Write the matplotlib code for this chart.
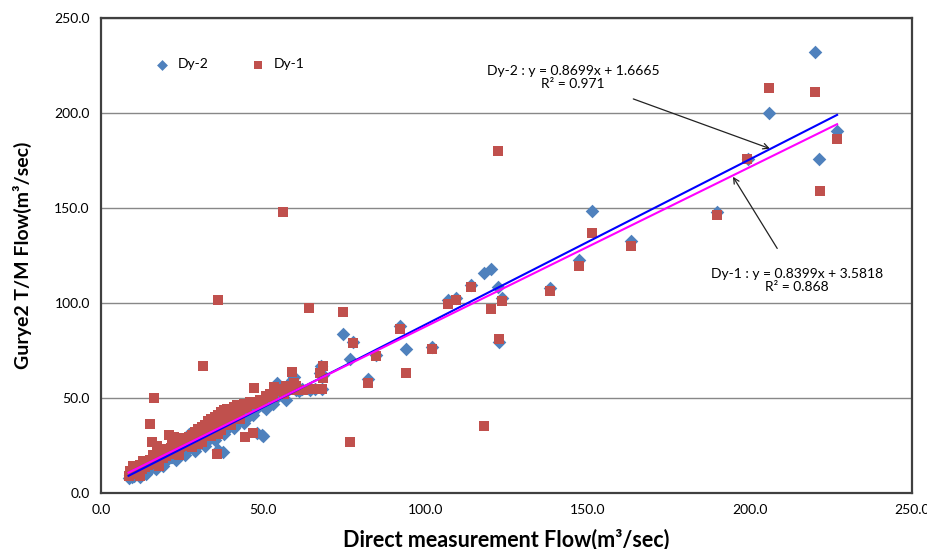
import matplotlib
matplotlib.use('Agg')
import matplotlib.pyplot as plt

plt.rcParams['font.family'] = ['Lato', 'DejaVu Sans']

# Dy-2 (blue diamonds): direct flow x, T/M flow y
dy2_x = [8.5, 9, 9.5, 10, 10.2, 10.8, 11, 11.5, 12, 12, 12.5, 13, 13.2, 13.8, 14, 14.5, 15, 15, 15.5, 16,
         16.2, 16.8, 17, 17.5, 18, 18, 18.5, 19, 19.5, 20, 20, 20.5, 21, 21.5, 22, 22, 22.5, 23, 23.5, 24,
         24, 24.5, 25, 25.5, 26, 26, 26.5, 27, 27.5, 28, 28.5, 29, 29, 30, 30.5, 31, 31.5, 32, 32.5, 33,
         33.5, 34, 34.5, 35, 35.5, 36, 36.5, 37, 37.5, 38, 38.5, 39, 39.5, 40, 41, 42, 43, 44, 45, 46,
         47, 48, 48, 49.5, 50, 50, 51, 52, 53, 53.5, 54, 54.3, 55, 56, 57, 58, 58.9, 59.5, 59, 60,
         61, 62, 64.4, 66, 67.8, 67.5, 68, 68.5,
         12, 14, 17, 19, 23, 26, 29, 32, 35, 38, 41, 44, 27, 33, 39,
         74.6, 76.8, 77.7, 82.3, 84.8, 92.2, 94, 102, 107, 109.4, 114, 118, 120.2, 122.4, 122.7, 123.6,
         138.4, 147.3, 151.4, 163.4, 189.9, 199.4, 205.9, 220.1, 221.3, 226.9]
dy2_y = [8.0, 9.5, 8.5, 10.5, 9.2, 11, 9.8, 12, 10.5, 12.8, 11.5, 13, 11.2, 12.5, 14.2, 13, 12.6, 15, 14, 16,
         13.8, 15.2, 17, 15.5, 16.5, 18.5, 17.2, 15.8, 18.2, 19.5, 17, 18.5, 20.5, 18.8, 21.5, 19, 20.2, 22.5, 20.5, 23.5,
         21, 22.4, 24.5, 22, 25.2, 23, 24.2, 26.5, 24, 27, 25.5, 28, 23.5, 29, 26.5, 30.5, 28, 29.5, 27, 31.5,
         29, 32.5, 30, 33.5, 31, 22.5, 34.5, 32, 21.5, 35.5, 33.5, 37.5, 35, 38, 36.5, 40, 38, 41.5, 39.5, 43,
         41, 44.5, 31.5, 30.5, 46, 30, 44, 48, 47, 52, 50, 58, 51.5, 53, 49, 55, 59.5, 61, 57.5, 54,
         53.5, 54.5, 54.2, 55, 66.8, 63, 54.7, 62,
         8.5, 10, 12.5, 14, 17.5, 20, 22, 25, 28, 31, 34, 37, 31, 37, 42,
         83.7, 70.5, 79.5, 60, 72.5, 87.9, 75.8, 76.8, 101.6, 102.6, 109.5, 115.8, 117.9, 108.4, 79.5, 102.6,
         108, 122.6, 148.4, 132.6, 147.9, 176, 200, 232, 175.8, 190.5]

# Dy-1 (red squares)
dy1_x = [8.5, 9, 9.5, 10, 10.5, 11, 11.5, 12, 12.5, 13, 13.5, 14, 14.5, 15, 15.1, 15.7, 16.3, 16, 16.5, 17,
         17.3, 17.5, 18, 18.5, 19, 19.5, 20, 20.5, 21, 21, 21.5, 22, 22.5, 23, 23.5, 24, 24.5, 25, 25.5, 26,
         26.5, 27, 27.5, 28, 28.5, 29, 29.5, 30, 30.5, 31.4, 31, 31.5, 32, 32.5, 33, 33.5, 34, 34.5, 35, 35.8,
         36.1, 36, 36.5, 37, 37.5, 38, 38.5, 39, 40, 41, 42, 42, 43, 44, 44.4, 45, 46, 46.9, 47.2, 48,
         49, 50, 51, 52, 53, 53.3, 54, 55, 56, 56.5, 57, 58, 58.9, 59.5, 60, 61, 62.3, 64.1, 65, 67.5,
         68, 68.4, 68.5,
         10, 13, 16, 19, 22, 25, 28, 31, 34, 37, 40, 43, 24, 30, 36, 12, 18,
         74.6, 76.8, 77.7, 82.3, 84.8, 92.2, 94, 102, 107, 109.4, 114, 118, 120.2, 122.4, 122.7, 123.6,
         138.4, 147.3, 151.4, 163.4, 189.9, 199.1, 205.9, 220.1, 221.6, 226.9]
dy1_y = [9, 11.5, 10, 12.5, 10.8, 13.5, 11.5, 14.5, 12.5, 15.5, 13.5, 16.5, 14.5, 17.5, 36.3, 26.8, 50, 15.5, 18.5, 16.5,
         24.7, 19.5, 17.5, 20.5, 18.5, 21.5, 19.5, 22.5, 30.5, 20.5, 23.5, 21.5, 29.5, 25, 22.5, 26.5, 24, 27, 25, 28.5,
         26, 29.5, 25, 30.5, 27, 32, 28, 33.5, 29.5, 66.8, 35, 31, 36, 31.5, 38, 33, 39, 34, 40, 20.5,
         101.6, 41, 36, 42.5, 37.5, 43.5, 39, 44, 40.5, 45.5, 46.3, 42, 44, 47, 29.5, 45, 48, 31.6, 55.3, 47,
         49, 48.5, 51, 52, 50.5, 56, 53.5, 55, 148, 52, 56.5, 54, 63.7, 58, 56.5, 54, 54.2, 97.4, 55, 63,
         54.7, 60.5, 67,
         14, 17, 20, 23, 26, 29, 24, 27, 30, 33, 36, 39, 20, 26, 31, 9, 14,
         95.3, 26.8, 79, 57.9, 72.1, 86.3, 63.2, 75.8, 99.5, 101.6, 108.4, 35.3, 96.8, 180, 81, 101,
         106.3, 119.5, 136.8, 130, 146.3, 175.8, 213.2, 211, 159, 186.3]

# linear fits as printed on the chart
fit2 = (0.8699, 1.6665)
fit1 = (0.8399, 3.5818)
fit_x = [8.5, 226.9]

fig = plt.figure(figsize=(9.28, 5.49), dpi=100)
ax = fig.add_axes([0.1088, 0.102, 0.874, 0.865])

ax.scatter(dy2_x, dy2_y, marker='D', s=48, color='#4F81BD', linewidths=0, label='Dy-2', zorder=3)
ax.scatter(dy1_x, dy1_y, marker='s', s=48, color='#C0504D', linewidths=0, label='Dy-1', zorder=4)

ax.plot(fit_x, [fit2[0] * v + fit2[1] for v in fit_x], color='#0000FF', lw=1.5, zorder=5)
ax.plot(fit_x, [fit1[0] * v + fit1[1] for v in fit_x], color='#FF00FF', lw=1.5, zorder=6)

ax.set_xlim(0, 250)
ax.set_ylim(0, 250)
ax.set_xticks(range(0, 251, 50))
ax.set_yticks(range(0, 251, 50))
ax.set_xticklabels([f'{v:.1f}' for v in range(0, 251, 50)])
ax.set_yticklabels([f'{v:.1f}' for v in range(0, 251, 50)])
ax.tick_params(length=0, labelsize=10, pad=8)
ax.yaxis.grid(True, color='#888888', lw=1)
ax.set_axisbelow(True)
for s in ax.spines.values():
    s.set_color('#404040')
    s.set_linewidth(1.6)

ax.set_xlabel('Direct measurement Flow(m³/sec)', fontsize=15.5, fontweight='bold', labelpad=9)
ax.set_ylabel('Gurye2 T/M Flow(m³/sec)', fontsize=14, fontweight='bold', labelpad=16)

ax.legend(loc='center left', bbox_to_anchor=(0.043, 0.903), ncol=2, frameon=False,
          fontsize=10, handletextpad=0.1, columnspacing=2.6, markerscale=0.8)

ax.annotate('Dy-2 : y = 0.8699x + 1.6665\nR² = 0.971', xy=(206.2, 181.3), xytext=(145.5, 219),
            ha='center', va='center', fontsize=10, linespacing=1.1,
            arrowprops=dict(arrowstyle='->', color='#222222', lw=0.9, shrinkA=14, shrinkB=0))
ax.annotate('Dy-1 : y = 0.8399x + 3.5818\nR² = 0.868', xy=(194.8, 166.5), xytext=(214.5, 112),
            ha='center', va='center', fontsize=10, linespacing=1.1,
            arrowprops=dict(arrowstyle='->', color='#222222', lw=0.9, shrinkA=14, shrinkB=0))

fig.savefig('out.png', dpi=100)
